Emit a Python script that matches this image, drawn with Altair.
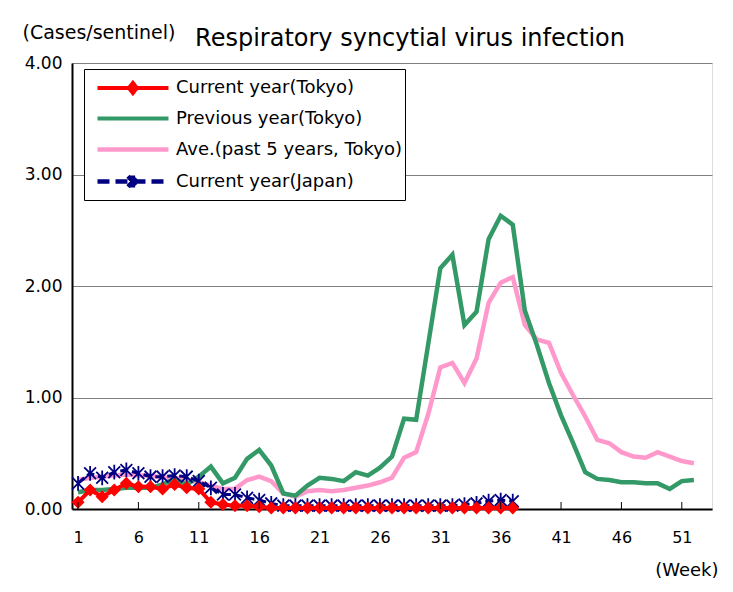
import altair as alt
import pandas as pd

# ---------------- data ----------------
weeks = list(range(1, 53))
tick_weeks = [1, 6, 11, 16, 21, 26, 31, 36, 41, 46, 51]
y_ticks = [0, 1, 2, 3, 4]

series_names = [
    "Current year(Tokyo)",
    "Previous year(Tokyo)",
    "Ave.(past 5 years, Tokyo)",
    "Current year(Japan)",
]
series_colors = ["#FF0000", "#339966", "#FF99CC", "#000080"]

current_tokyo = [0.06, 0.17, 0.11, 0.17, 0.23, 0.20, 0.20, 0.18, 0.22, 0.19,
                 0.18, 0.06, 0.04, 0.03, 0.03, 0.02, 0.01, 0.01, 0.01, 0.01,
                 0.01, 0.01, 0.01, 0.01, 0.01, 0.01, 0.01, 0.01, 0.01, 0.01,
                 0.01, 0.01, 0.01, 0.01, 0.01, 0.01, 0.01]

previous_tokyo = [0.15, 0.17, 0.17, 0.18, 0.19, 0.19, 0.19, 0.22, 0.27, 0.22,
                  0.29, 0.38, 0.23, 0.28, 0.45, 0.53, 0.39, 0.14, 0.12, 0.21,
                  0.28, 0.27, 0.25, 0.33, 0.30, 0.37, 0.47, 0.81, 0.80, 1.48,
                  2.16, 2.28, 1.65, 1.77, 2.42, 2.63, 2.55, 1.78, 1.47, 1.13,
                  0.84, 0.59, 0.33, 0.27, 0.26, 0.24, 0.24, 0.23, 0.23, 0.18,
                  0.25, 0.26]

average_5y = [0.26, 0.28, 0.29, 0.30, 0.31, 0.30, 0.30, 0.28, 0.28, 0.26,
              0.24, 0.21, 0.18, 0.18, 0.26, 0.29, 0.25, 0.14, 0.11, 0.16,
              0.17, 0.16, 0.17, 0.19, 0.21, 0.24, 0.28, 0.46, 0.51, 0.85,
              1.27, 1.31, 1.13, 1.35, 1.85, 2.03, 2.08, 1.65, 1.52, 1.49,
              1.22, 1.02, 0.83, 0.62, 0.59, 0.51, 0.47, 0.46, 0.51, 0.47,
              0.43, 0.41]

current_japan = [0.23, 0.32, 0.28, 0.33, 0.35, 0.32, 0.29, 0.29, 0.30, 0.29,
                 0.25, 0.19, 0.13, 0.13, 0.10, 0.08, 0.05, 0.03, 0.03, 0.03,
                 0.03, 0.03, 0.03, 0.03, 0.03, 0.03, 0.03, 0.03, 0.03, 0.03,
                 0.03, 0.03, 0.04, 0.05, 0.07, 0.08, 0.07]

rows = []
for name, vals in zip(series_names, [current_tokyo, previous_tokyo, average_5y, current_japan]):
    for w, v in zip(weeks, vals):
        rows.append({"series": name, "week": w, "value": v})
df = pd.DataFrame(rows)
ticks_df = pd.DataFrame({"week": tick_weeks})

FONT = "DejaVu Sans"

# ---------------- encodings ----------------
x_scale = alt.Scale(domain=[0.5, 53.5], nice=False, zero=False)
x_enc = alt.X(
    "week:Q",
    scale=x_scale,
    axis=alt.Axis(
        values=tick_weeks, format="d", ticks=False, grid=False,
        labelFont=FONT, labelFontSize=16, labelColor="black", labelPadding=20,
        domainColor="black", domainWidth=2,
        title="(Week)", titleFont=FONT, titleFontSize=18, titleFontWeight="normal",
        titleColor="black", titleX=646, titleY=66, titleAlign="right",
        titleBaseline="alphabetic", labelFlush=False,
    ),
)
y_enc = alt.Y(
    "value:Q",
    scale=alt.Scale(domain=[0, 4], nice=False),
    axis=alt.Axis(
        values=y_ticks, format=".2f", ticks=False, grid=True,
        gridColor="#808080", gridWidth=1,
        labelFont=FONT, labelFontSize=17, labelColor="black", labelPadding=10,
        domainColor="black", domainWidth=2,
        title="(Cases/sentinel)", titleFont=FONT, titleFontSize=19,
        titleFontWeight="normal", titleColor="black", titleAngle=0,
        titleX=-50, titleY=-25, titleAlign="left", titleBaseline="alphabetic",
    ),
)

base = alt.Chart(df)


def only(name):
    return alt.datum.series == name


pink_line = base.transform_filter(only(series_names[2])).mark_line(
    color=series_colors[2], strokeWidth=4.5).encode(x=x_enc, y=y_enc)
green_line = base.transform_filter(only(series_names[1])).mark_line(
    color=series_colors[1], strokeWidth=4.5).encode(x=x_enc, y=y_enc)
blue_line = base.transform_filter(only(series_names[3])).mark_line(
    color=series_colors[3], strokeWidth=3, strokeDash=[8, 4]).encode(x=x_enc, y=y_enc)
asterisk = "M-1,-1L1,1M-1,1L1,-1M0,-1.25L0,1.25"
blue_pts = base.transform_filter(only(series_names[3])).mark_point(
    shape=asterisk, size=140, filled=False, stroke=series_colors[3],
    strokeWidth=1.8, opacity=1).encode(x=x_enc, y=y_enc)
red_line = base.transform_filter(only(series_names[0])).mark_line(
    color=series_colors[0], strokeWidth=4).encode(x=x_enc, y=y_enc)
red_pts = base.transform_filter(only(series_names[0])).mark_point(
    shape="diamond", size=170, filled=True, color=series_colors[0],
    opacity=1).encode(x=x_enc, y=y_enc)

tick_marks = alt.Chart(ticks_df).mark_rule(color="black", strokeWidth=1).encode(
    x=alt.X("week:Q", scale=x_scale),
    y=alt.value(446), y2=alt.value(439),
)

# legend layer (invisible marks, visible legend)
# symbol box: sqrt(size)=28 px -> 1 unit = 14 px
frame = "M2.1,-0.42L2.1,-0.42M2.1,0.42L2.1,0.42"
seg = "M-0.43,0L4.64,0"
legend_paths = [
    frame + seg + "M2.1,-0.36L2.38,0L2.1,0.36L1.82,0Z",
    frame + seg,
    frame + seg,
    frame + seg + "M1.75,-0.38L2.45,0.38M1.75,0.38L2.45,-0.38M2.1,-0.42L2.1,0.42",
]
legend_dash = [[1, 0], [1, 0], [1, 0], [12, 6]]
legend_widths = [4, 4.5, 4.5, 3]
leg = alt.Legend(
    title=None, orient="none", legendX=12, legendY=6,
    strokeColor="black", fillColor="white", padding=3,
    labelFont=FONT, labelFontSize=18, labelColor="black", labelOffset=56,
    symbolSize=784, symbolOpacity=1, rowPadding=0,
    labelLimit=400,
)
legend_layer = base.mark_point(opacity=0, filled=True).encode(
    x=x_enc, y=y_enc,
    fill=alt.Fill("series:N", scale=alt.Scale(domain=series_names, range=series_colors), legend=leg),
    stroke=alt.Stroke("series:N", scale=alt.Scale(domain=series_names, range=series_colors), legend=leg),
    shape=alt.Shape("series:N", scale=alt.Scale(domain=series_names, range=legend_paths), legend=leg),
    strokeDash=alt.StrokeDash("series:N", scale=alt.Scale(domain=series_names, range=legend_dash), legend=leg),
    strokeWidth=alt.StrokeWidth("series:N", scale=alt.Scale(domain=series_names, range=legend_widths), legend=leg),
)

chart = alt.layer(
    pink_line, green_line, blue_line, blue_pts, red_line, red_pts, tick_marks, legend_layer
).properties(
    width=640, height=446,
    autosize=alt.AutoSizeParams(type="none"),
    padding={"left": 64, "top": 55, "right": 13, "bottom": 75},
    title=alt.TitleParams(
        "Respiratory syncytial virus infection", font=FONT, fontSize=24,
        fontWeight="normal", color="black", anchor="middle", dx=18, dy=37, offset=9,
    ),
).configure_view(
    stroke="#888888", strokeWidth=2
).configure(background="white")

chart.save("out.html", embed_options={"renderer": "svg", "actions": False})
